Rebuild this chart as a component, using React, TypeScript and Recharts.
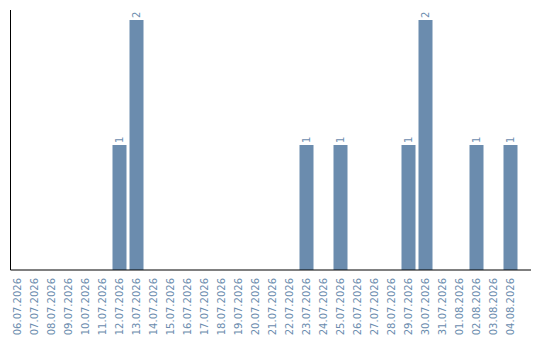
import React from "react";
import { BarChart, Bar, XAxis, YAxis, LabelList } from "recharts";

// Daily dates shown on the category axis
const dates: string[] = [
  "06.07.2026", "07.07.2026", "08.07.2026", "09.07.2026", "10.07.2026",
  "11.07.2026", "12.07.2026", "13.07.2026", "14.07.2026", "15.07.2026",
  "16.07.2026", "17.07.2026", "18.07.2026", "19.07.2026", "20.07.2026",
  "21.07.2026", "22.07.2026", "23.07.2026", "24.07.2026", "25.07.2026",
  "26.07.2026", "27.07.2026", "28.07.2026", "29.07.2026", "30.07.2026",
  "31.07.2026", "01.08.2026", "02.08.2026", "03.08.2026", "04.08.2026",
];

// Count per day
const counts: number[] = [
  0, 0, 0, 0, 0,
  0, 1, 2, 0, 0,
  0, 0, 0, 0, 0,
  0, 0, 1, 0, 1,
  0, 0, 0, 1, 2,
  0, 0, 1, 0, 1,
];

const data = dates.map((date, i) => ({ date, count: counts[i] }));

const BLUE = "#6b8cae";
const FONT = "'DejaVu Sans', sans-serif";

const DateTick = (props: any) => {
  const { x, y, payload } = props;
  return (
    <g transform={`translate(${x},${y})`}>
      <text
        transform="rotate(-90)"
        x={0}
        y={0}
        dy="0.35em"
        textAnchor="end"
        fill={BLUE}
        fontSize={10}
        fontFamily={FONT}
      >
        {payload.value}
      </text>
    </g>
  );
};

const ValueLabel = (props: any) => {
  const { x, y, width, value } = props;
  if (!value) return null;
  const cx = x + width / 2;
  const ty = y - 2;
  return (
    <text
      transform={`rotate(-90, ${cx}, ${ty})`}
      x={cx}
      y={ty}
      dy="0.35em"
      textAnchor="start"
      fill={BLUE}
      fontSize={10}
      fontFamily={FONT}
    >
      {value}
    </text>
  );
};

export default function App() {
  return (
    <div style={{ position: "absolute", left: 0, top: 0, width: 540, height: 340, background: "#fff" }}>
      <BarChart
        width={540}
        height={340}
        data={data}
        margin={{ top: 10, right: 9, bottom: 0, left: 9.5 }}
      >
        <XAxis
          dataKey="date"
          interval={0}
          height={70}
          tickLine={false}
          axisLine={{ stroke: "#000" }}
          padding={{ left: -2, right: 12.5 }}
          tick={<DateTick />}
        />
        <YAxis
          width={1}
          domain={[0, 2.08]}
          tick={false}
          tickLine={false}
          axisLine={{ stroke: "#000" }}
        />
        <Bar dataKey="count" fill={BLUE} barSize={14} isAnimationActive={false}>
          <LabelList dataKey="count" content={<ValueLabel />} />
        </Bar>
      </BarChart>
    </div>
  );
}
